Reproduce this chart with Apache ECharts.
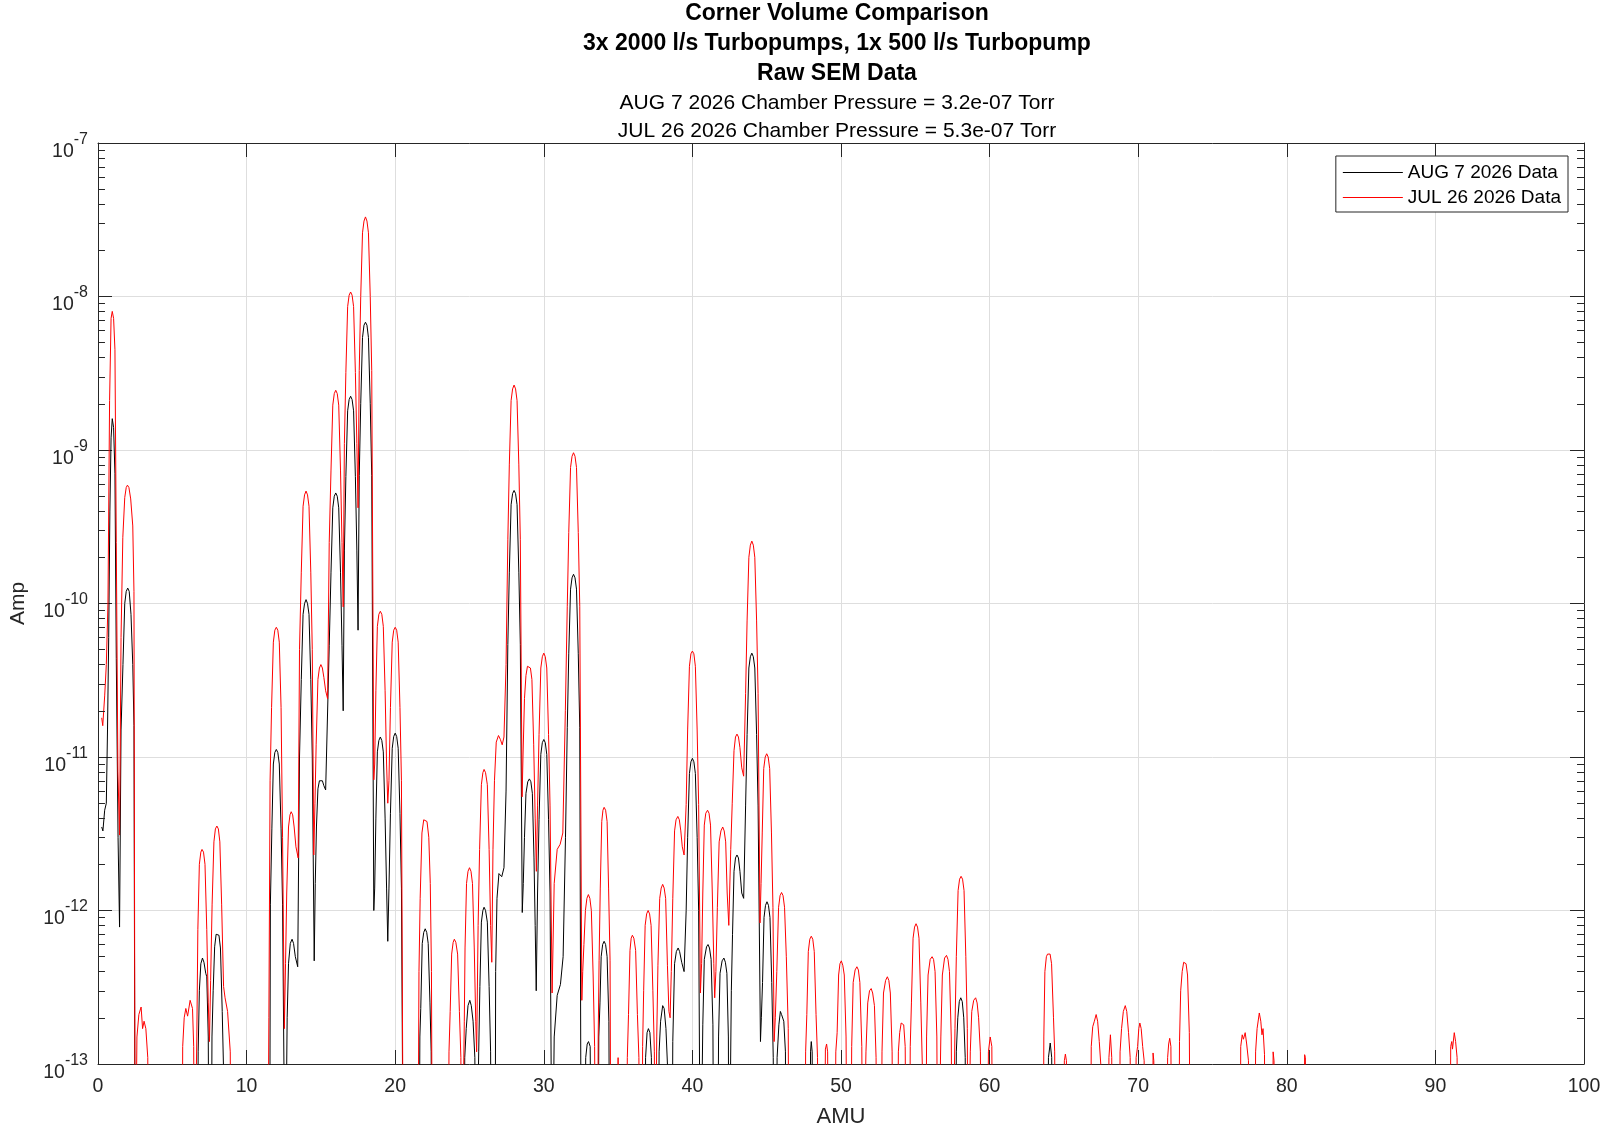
<!DOCTYPE html>
<html>
<head>
<meta charset="utf-8">
<script src="https://cdn.jsdelivr.net/npm/echarts@6/dist/echarts.min.js"></script>
<style>
html,body{margin:0;padding:0;background:#fff;}
#chart{width:1604px;height:1133px;}
</style>
</head>
<body>
<div id="chart"></div>
<script>
// ---------- data ----------
const titleLines = ['Corner Volume Comparison', '3x 2000 l/s Turbopumps, 1x 500 l/s Turbopump', 'Raw SEM Data'];
const subtitleLines = ['AUG 7 2026 Chamber Pressure = 3.2e-07 Torr', 'JUL 26 2026 Chamber Pressure = 5.3e-07 Torr'];
const seriesNames = ['AUG 7 2026 Data', 'JUL 26 2026 Data'];
const xTicks = [0, 10, 20, 30, 40, 50, 60, 70, 80, 90, 100];
const yDecades = [-13, -12, -11, -10, -9, -8, -7];
const minorMultipliers = [2, 3, 4, 5, 6, 7, 8, 9];

// AMU, Amp  (AUG 7 2026, black)
const aug7Data = [
[0.25,3.5e-12],[0.33,3.3e-12],[0.45,4.5e-12],[0.56,5e-12],[0.64,1.5e-11],[0.72,6e-11],[0.8,4e-10],[0.88,1.2e-9],[0.96,1.6e-9],[1.05,1.4e-9],[1.14,7e-10],[1.23,4.4e-11],[1.35,3e-12],[1.45,7.8e-13],
[1.55,1.5e-11],[1.68,4e-11],[1.8,1e-10],[1.9,1.2e-10],[2.0,1.26e-10],[2.1,1.2e-10],[2.22,8.5e-11],[2.34,4e-11],[2.42,1.6e-11],[2.5,1e-14],
[6.7,1e-14],[6.74,1.2e-13],[6.82,3e-13],[6.92,4.5e-13],[7.03,4.9e-13],[7.13,4.6e-13],[7.25,3.9e-13],[7.32,3.7e-13],[7.42,1.5e-13],[7.48,1e-14],
[7.62,1e-14],[7.67,1.5e-13],[7.75,3e-13],[7.85,5.8e-13],[7.95,7e-13],[8.04,7.2e-13],[8.14,6.9e-13],[8.24,5.7e-13],[8.36,2.2e-13],[8.44,1e-13],[8.48,1e-14],
[11.55,1e-14],[11.6,1.1e-12],[11.7,3.4e-12],[11.8,9e-12],[11.9,1.07e-11],[12.0,1.12e-11],[12.1,1.07e-11],[12.2,9e-12],[12.32,3.4e-12],[12.42,1.1e-12],[12.6,1e-14],
[12.68,1e-14],[12.73,2e-13],[12.82,4.5e-13],[12.94,6.1e-13],[13.06,6.5e-13],[13.16,6.1e-13],[13.28,5e-13],[13.44,4.3e-13],
[13.56,1e-11],[13.68,3.2e-11],[13.8,8.5e-11],[13.9,1.0e-10],[14.0,1.06e-10],[14.1,1.0e-10],[14.2,8.5e-11],[14.32,3.2e-11],[14.42,1e-11],[14.55,4.7e-13],
[14.62,1.5e-12],[14.7,3.5e-12],[14.8,6.2e-12],[14.9,7e-12],[15.0,7.2e-12],[15.1,7e-12],[15.2,6.5e-12],[15.32,6.1e-12],[15.45,6.0e-12],
[15.56,5.3e-11],[15.68,1.6e-10],[15.8,4.2e-10],[15.9,5e-10],[16.0,5.25e-10],[16.1,5e-10],[16.2,4.2e-10],[16.32,1.6e-10],[16.42,5.3e-11],[16.5,2e-11],
[16.58,2.2e-10],[16.68,6.7e-10],[16.8,1.8e-9],[16.9,2.13e-9],[17.0,2.24e-9],[17.1,2.13e-9],[17.2,1.8e-9],[17.32,6.7e-10],[17.42,2.2e-10],[17.5,6.7e-11],
[17.58,6.8e-10],[17.68,2e-9],[17.8,5.4e-9],[17.9,6.5e-9],[18.0,6.8e-9],[18.1,6.5e-9],[18.2,5.4e-9],[18.32,2e-9],[18.42,6.8e-10],[18.56,1e-12],
[18.62,1.4e-12],[18.7,4e-12],[18.8,1.08e-11],[18.9,1.28e-11],[19.0,1.35e-11],[19.1,1.28e-11],[19.2,1.08e-11],[19.32,4e-12],[19.42,1.4e-12],[19.5,6.3e-13],
[19.58,1.4e-12],[19.68,4.3e-12],[19.8,1.14e-11],[19.9,1.36e-11],[20.0,1.43e-11],[20.1,1.36e-11],[20.2,1.14e-11],[20.32,4.3e-12],[20.42,1.4e-12],[20.55,1e-14],
[21.6,1e-14],[21.66,1.5e-13],[21.72,2.3e-13],[21.82,6.1e-13],[21.92,7.2e-13],[22.02,7.6e-13],[22.12,7.2e-13],[22.22,6.1e-13],[22.34,2.5e-13],[22.42,1.2e-13],[22.47,1e-14],
[24.62,1e-14],[24.68,1.1e-13],[24.78,1.7e-13],[24.9,2.4e-13],[25.02,2.6e-13],[25.12,2.4e-13],[25.24,1.9e-13],[25.36,1.1e-13],[25.45,1e-14],
[25.58,1e-14],[25.62,1.2e-13],[25.7,3.2e-13],[25.8,8.4e-13],[25.9,1.0e-12],[25.98,1.05e-12],[26.08,1.0e-12],[26.2,8.4e-13],[26.32,3.2e-13],[26.42,1.2e-13],[26.48,1e-14],
[26.72,1e-14],[26.76,4e-13],[26.85,1.2e-12],[26.98,1.74e-12],[27.1,1.7e-12],[27.17,1.66e-12],[27.32,1.9e-12],[27.46,6e-12],
[27.58,5.4e-11],[27.68,1.6e-10],[27.8,4.4e-10],[27.9,5.2e-10],[28.0,5.45e-10],[28.1,5.2e-10],[28.2,4.4e-10],[28.32,1.6e-10],[28.42,5.4e-11],[28.55,9.7e-13],
[28.62,1.5e-12],[28.7,3e-12],[28.8,5.8e-12],[28.92,6.9e-12],[29.03,7.2e-12],[29.13,6.9e-12],[29.23,5.8e-12],[29.34,2.2e-12],[29.42,8e-13],[29.49,3e-13],
[29.58,1.3e-12],[29.68,3.9e-12],[29.8,1.04e-11],[29.9,1.24e-11],[30.0,1.3e-11],[30.1,1.24e-11],[30.2,1.04e-11],[30.32,3.9e-12],[30.42,1.3e-12],[30.56,1e-14],
[30.66,1e-14],[30.7,1.5e-13],[30.9,2.8e-13],[31.12,3.3e-13],[31.3,5e-13],[31.46,3e-12],
[31.58,1.55e-11],[31.68,4.7e-11],[31.8,1.24e-10],[31.9,1.47e-10],[32.0,1.55e-10],[32.1,1.47e-10],[32.2,1.24e-10],[32.32,4.7e-11],[32.42,1.55e-11],[32.52,1e-14],
[32.75,1e-14],[32.82,1.1e-13],[32.92,1.35e-13],[33.01,1.4e-13],[33.12,1.3e-13],[33.22,1e-14],
[33.65,1e-14],[33.7,1.5e-13],[33.78,2.5e-13],[33.86,5e-13],[33.96,6e-13],[34.06,6.3e-13],[34.16,6e-13],[34.26,5e-13],[34.38,1.9e-13],[34.44,1e-14],
[36.78,1e-14],[36.85,1.1e-13],[36.95,1.6e-13],[37.04,1.7e-13],[37.14,1.6e-13],[37.24,1.1e-13],[37.3,1e-14],
[37.7,1e-14],[37.76,1.2e-13],[37.86,1.9e-13],[38.0,2.4e-13],[38.1,2.3e-13],[38.22,1.7e-13],[38.32,1e-13],[38.36,1e-14],
[38.62,1e-14],[38.68,1.4e-13],[38.8,4.5e-13],[38.92,5.4e-13],[39.04,5.7e-13],[39.14,5.4e-13],[39.28,4.6e-13],[39.44,4e-13],
[39.58,1e-12],[39.68,3e-12],[39.8,7.8e-12],[39.9,9.3e-12],[40.0,9.8e-12],[40.1,9.3e-12],[40.2,7.8e-12],[40.32,3e-12],[40.42,1e-12],[40.54,1e-14],
[40.66,1e-14],[40.7,1.8e-13],[40.8,4.8e-13],[40.95,5.8e-13],[41.05,6e-13],[41.15,5.7e-13],[41.26,4.8e-13],[41.38,1.8e-13],[41.44,1e-14],
[41.7,1e-14],[41.76,1.5e-13],[41.86,3.9e-13],[42.0,4.7e-13],[42.12,4.9e-13],[42.22,4.6e-13],[42.32,3.9e-13],[42.42,1.5e-13],[42.47,1e-14],
[42.56,1e-14],[42.62,3e-13],[42.7,7e-13],[42.8,1.8e-12],[42.9,2.2e-12],[43.0,2.3e-12],[43.1,2.2e-12],[43.2,1.8e-12],[43.32,1.3e-12],[43.45,1.2e-12],
[43.58,4.8e-12],[43.68,1.4e-11],[43.8,3.8e-11],[43.9,4.5e-11],[44.0,4.75e-11],[44.1,4.5e-11],[44.2,3.8e-11],[44.32,1.4e-11],[44.42,4.8e-12],[44.58,1.4e-13],
[44.64,2e-13],[44.72,3.4e-13],[44.82,9e-13],[44.92,1.08e-12],[45.02,1.14e-12],[45.12,1.08e-12],[45.22,9e-13],[45.34,3.4e-13],[45.44,1.1e-13],[45.5,1e-14],
[45.64,1e-14],[45.7,1.1e-13],[45.82,1.8e-13],[45.92,2.2e-13],[46.0,2.1e-13],[46.05,2.15e-13],[46.15,1.9e-13],[46.26,1.2e-13],[46.3,1e-14],
[47.9,1e-14],[47.95,1.2e-13],[48.0,1.4e-13],[48.06,1.2e-13],[48.1,1e-14],
[57.7,1e-14],[57.76,1.2e-13],[57.86,2e-13],[57.96,2.55e-13],[58.06,2.7e-13],[58.16,2.55e-13],[58.26,2e-13],[58.36,1.1e-13],[58.4,1e-14],
[63.9,1e-14],[63.96,1.1e-13],[64.08,1.37e-13],[64.18,1.1e-13],[64.24,1e-14],
[100,1e-14]
];

// AMU, Amp  (JUL 26 2026, red)
const jul26Data = [
[0.25,1.8e-11],[0.32,1.6e-11],[0.45,2.5e-11],[0.56,4e-11],[0.67,1e-10],[0.78,2.1e-9],[0.88,7.2e-9],[0.96,8.0e-9],[1.05,7.2e-9],[1.14,4.5e-9],[1.23,2.5e-10],[1.34,8e-12],[1.45,3.1e-12],
[1.55,6e-11],[1.67,2.7e-10],[1.8,4.9e-10],[1.9,5.7e-10],[1.98,5.9e-10],[2.08,5.7e-10],[2.2,4.8e-10],[2.34,3.2e-10],[2.42,1.2e-10],[2.5,1e-14],
[2.56,1e-14],[2.62,1.5e-13],[2.75,2.1e-13],[2.9,2.35e-13],[3.0,1.7e-13],[3.1,1.9e-13],[3.22,1.7e-13],[3.35,1.1e-13],[3.4,1e-14],
[5.65,1e-14],[5.7,1.3e-13],[5.8,2.0e-13],[5.91,2.3e-13],[6.03,2.05e-13],[6.2,2.6e-13],[6.36,2.3e-13],[6.44,1.3e-13],[6.48,1e-14],
[6.6,1e-14],[6.65,1.5e-13],[6.72,7.5e-13],[6.82,2.0e-12],[6.92,2.4e-12],[7.0,2.5e-12],[7.1,2.4e-12],[7.2,2.0e-12],[7.32,7.5e-13],[7.42,2.5e-13],[7.5,1.4e-13],
[7.58,3.5e-13],[7.68,1.1e-12],[7.8,2.8e-12],[7.9,3.4e-12],[8.0,3.55e-12],[8.1,3.4e-12],[8.2,2.8e-12],[8.32,1.1e-12],[8.45,3.2e-13],[8.55,2.7e-13],[8.72,2.2e-13],[8.9,1.2e-13],[8.95,1e-14],
[11.42,1e-14],[11.5,2e-13],[11.58,7e-12],[11.68,2.1e-11],[11.8,5.6e-11],[11.9,6.7e-11],[12.0,7.0e-11],[12.1,6.7e-11],[12.2,5.6e-11],[12.32,2.1e-11],[12.42,3e-12],[12.54,1.7e-13],
[12.62,4.5e-13],[12.7,1.3e-12],[12.82,3.5e-12],[12.92,4.2e-12],[13.0,4.4e-12],[13.1,4.2e-12],[13.2,3.5e-12],[13.32,2.6e-12],[13.47,2.2e-12],
[13.56,5e-11],[13.68,1.6e-10],[13.8,4.3e-10],[13.9,5.1e-10],[14.0,5.4e-10],[14.1,5.1e-10],[14.2,4.3e-10],[14.32,1.6e-10],[14.42,5e-11],[14.52,2.3e-12],
[14.6,5e-12],[14.68,1.2e-11],[14.8,3.2e-11],[14.9,3.8e-11],[15.0,4.0e-11],[15.1,3.8e-11],[15.2,3.3e-11],[15.32,2.7e-11],[15.45,2.4e-11],
[15.56,2.5e-10],[15.68,7.4e-10],[15.8,1.96e-9],[15.9,2.33e-9],[16.0,2.45e-9],[16.1,2.33e-9],[16.2,1.96e-9],[16.32,7.4e-10],[16.42,2.5e-10],[16.5,9.5e-11],
[16.58,1.1e-9],[16.68,3.2e-9],[16.8,8.6e-9],[16.9,1.02e-8],[17.0,1.07e-8],[17.1,1.02e-8],[17.2,8.6e-9],[17.32,3.2e-9],[17.42,1.1e-9],[17.5,4.2e-10],
[17.58,3.3e-9],[17.68,1.0e-8],[17.8,2.6e-8],[17.9,3.1e-8],[18.0,3.3e-8],[18.1,3.1e-8],[18.2,2.6e-8],[18.32,1.0e-8],[18.42,3.3e-9],[18.56,7.1e-12],
[18.62,9e-12],[18.7,2.7e-11],[18.8,7.1e-11],[18.9,8.5e-11],[19.0,8.9e-11],[19.1,8.5e-11],[19.2,7.1e-11],[19.32,2.7e-11],[19.42,9e-12],[19.5,5e-12],
[19.58,7e-12],[19.68,2.1e-11],[19.8,5.6e-11],[19.9,6.7e-11],[20.0,7.0e-11],[20.1,6.7e-11],[20.2,5.6e-11],[20.32,2.1e-11],[20.42,7e-12],[20.55,1e-14],
[21.52,1e-14],[21.6,4e-13],[21.68,1.2e-12],[21.8,3.2e-12],[21.92,3.9e-12],[22.03,4.0e-12],[22.14,3.8e-12],[22.26,3.0e-12],[22.36,1.5e-12],[22.44,4e-13],[22.5,1e-14],
[23.56,1e-14],[23.62,1.2e-13],[23.7,2.2e-13],[23.8,5.2e-13],[23.9,6.2e-13],[23.98,6.5e-13],[24.08,6.2e-13],[24.2,5.2e-13],[24.32,2.2e-13],[24.42,1.1e-13],[24.48,1e-14],
[24.6,1e-14],[24.65,1.9e-13],[24.7,5.7e-13],[24.8,1.5e-12],[24.9,1.8e-12],[25.0,1.9e-12],[25.1,1.8e-12],[25.2,1.5e-12],[25.32,5.7e-13],[25.42,1.9e-13],[25.48,1.2e-13],
[25.58,8e-13],[25.68,2.5e-12],[25.8,6.6e-12],[25.9,7.9e-12],[25.98,8.3e-12],[26.08,7.9e-12],[26.2,6.6e-12],[26.32,2.5e-12],[26.42,8e-13],[26.5,4.6e-13],
[26.58,2.5e-12],[26.68,7e-12],[26.8,1.25e-11],[26.95,1.38e-11],[27.08,1.3e-11],[27.2,1.2e-11],[27.32,1.35e-11],[27.46,4e-11],
[27.58,2.6e-10],[27.68,8e-10],[27.8,2.1e-9],[27.9,2.5e-9],[28.0,2.65e-9],[28.1,2.5e-9],[28.2,2.1e-9],[28.32,8e-10],[28.42,2.6e-10],[28.54,5.5e-12],
[28.6,1e-11],[28.7,2.4e-11],[28.8,3.4e-11],[28.9,3.9e-11],[29.0,4.0e-11],[29.1,3.8e-11],[29.2,3.2e-11],[29.32,1.2e-11],[29.42,4e-12],[29.5,1.8e-12],
[29.58,4.8e-12],[29.68,1.4e-11],[29.8,3.8e-11],[29.9,4.5e-11],[30.0,4.75e-11],[30.1,4.5e-11],[30.2,3.8e-11],[30.32,1.4e-11],[30.42,4.8e-12],[30.56,2.9e-13],
[30.7,1.5e-12],[30.9,2.5e-12],[31.1,2.7e-12],[31.28,3.2e-12],[31.45,2e-11],
[31.58,9.6e-11],[31.68,2.9e-10],[31.8,7.7e-10],[31.9,9.1e-10],[32.0,9.6e-10],[32.1,9.1e-10],[32.2,7.7e-10],[32.32,2.9e-10],[32.42,9.6e-11],[32.56,2.6e-13],
[32.62,4e-13],[32.7,6e-13],[32.8,1.0e-12],[32.9,1.2e-12],[33.0,1.27e-12],[33.1,1.2e-12],[33.2,1.0e-12],[33.32,3.8e-13],[33.42,1.3e-13],[33.48,1e-14],
[33.62,1e-14],[33.66,1.5e-13],[33.72,4.7e-13],[33.8,1.4e-12],[33.9,3.8e-12],[33.98,4.5e-12],[34.06,4.7e-12],[34.16,4.5e-12],[34.26,3.8e-12],[34.36,1.4e-12],[34.46,4.7e-13],[34.52,1e-14],
[34.95,1e-14],[35.0,1.1e-13],[35.06,1e-14],
[35.55,1e-14],[35.62,1.1e-13],[35.7,2.1e-13],[35.8,5.5e-13],[35.88,6.6e-13],[35.96,6.9e-13],[36.06,6.6e-13],[36.18,5.5e-13],[36.3,2.1e-13],[36.4,1.1e-13],[36.46,1e-14],
[36.6,1e-14],[36.65,1.3e-13],[36.72,3e-13],[36.82,8e-13],[36.92,9.5e-13],[37.02,1.0e-12],[37.12,9.5e-13],[37.22,8e-13],[37.34,3e-13],[37.44,1.2e-13],[37.5,1e-14],
[37.55,1e-14],[37.6,1.5e-13],[37.68,4.4e-13],[37.8,1.2e-12],[37.9,1.4e-12],[38.0,1.48e-12],[38.1,1.4e-12],[38.2,1.2e-12],[38.32,4.4e-13],[38.42,2.2e-13],[38.5,2.0e-13],
[38.58,4e-13],[38.68,1.2e-12],[38.8,3.3e-12],[38.9,3.9e-12],[39.02,4.1e-12],[39.12,3.9e-12],[39.22,3.3e-12],[39.32,2.6e-12],[39.44,2.3e-12],
[39.58,4.9e-12],[39.68,1.5e-11],[39.8,3.9e-11],[39.9,4.7e-11],[40.0,4.9e-11],[40.1,4.7e-11],[40.2,3.9e-11],[40.32,1.5e-11],[40.42,4.9e-12],[40.54,2.9e-13],
[40.62,4.5e-13],[40.7,1.3e-12],[40.8,3.6e-12],[40.9,4.3e-12],[41.02,4.5e-12],[41.12,4.3e-12],[41.22,3.6e-12],[41.34,1.3e-12],[41.44,4.5e-13],[41.5,2.7e-13],
[41.58,4e-13],[41.68,1.05e-12],[41.8,2.8e-12],[41.92,3.3e-12],[42.04,3.5e-12],[42.14,3.3e-12],[42.24,2.8e-12],[42.34,1.3e-12],[42.45,8e-13],
[42.58,2.5e-12],[42.68,5e-12],[42.8,1.1e-11],[42.9,1.35e-11],[43.0,1.41e-11],[43.1,1.35e-11],[43.2,1.15e-11],[43.32,8.5e-12],[43.45,7.5e-12],
[43.58,2.6e-11],[43.68,7.7e-11],[43.8,2.0e-10],[43.9,2.4e-10],[44.0,2.55e-10],[44.1,2.4e-10],[44.2,2.0e-10],[44.32,7.7e-11],[44.42,2.6e-11],[44.55,8.3e-13],
[44.62,1.5e-12],[44.7,3.2e-12],[44.8,8.4e-12],[44.9,1.0e-11],[45.0,1.05e-11],[45.1,1.0e-11],[45.2,8.4e-12],[45.32,3.2e-12],[45.42,1.05e-12],[45.5,1.4e-13],
[45.58,2e-13],[45.68,4e-13],[45.8,1.05e-12],[45.9,1.25e-12],[46.0,1.31e-12],[46.1,1.25e-12],[46.2,1.05e-12],[46.32,5e-13],[46.45,1.7e-13],[46.5,1e-14],
[47.56,1e-14],[47.62,1.2e-13],[47.7,2.1e-13],[47.8,5.4e-13],[47.9,6.5e-13],[48.0,6.8e-13],[48.1,6.5e-13],[48.2,5.4e-13],[48.32,2.1e-13],[48.42,1.1e-13],[48.48,1e-14],
[48.88,1e-14],[48.95,1.25e-13],[49.03,1.35e-13],[49.1,1.2e-13],[49.16,1e-14],
[49.58,1e-14],[49.65,1.2e-13],[49.74,1.6e-13],[49.84,3.8e-13],[49.93,4.5e-13],[50.02,4.7e-13],[50.12,4.4e-13],[50.22,3.8e-13],[50.34,1.5e-13],[50.42,1e-14],
[50.65,1e-14],[50.72,1.3e-13],[50.82,3.4e-13],[50.95,4.1e-13],[51.07,4.3e-13],[51.17,4.1e-13],[51.27,3.4e-13],[51.4,1.3e-13],[51.47,1e-14],
[51.6,1e-14],[51.68,1.2e-13],[51.8,2.5e-13],[51.92,3.0e-13],[52.03,3.1e-13],[52.13,2.9e-13],[52.25,2.4e-13],[52.36,1.1e-13],[52.42,1e-14],
[52.7,1e-14],[52.76,1.2e-13],[52.86,2.9e-13],[53.0,3.5e-13],[53.12,3.7e-13],[53.22,3.5e-13],[53.32,2.9e-13],[53.44,1.2e-13],[53.5,1e-14],
[53.8,1e-14],[53.86,1.2e-13],[53.95,1.6e-13],[54.05,1.85e-13],[54.13,1.9e-13],[54.22,1.8e-13],[54.32,1.3e-13],[54.4,1e-14],
[54.6,1e-14],[54.66,1.3e-13],[54.74,2.5e-13],[54.85,6.6e-13],[54.95,7.8e-13],[55.05,8.2e-13],[55.15,7.8e-13],[55.25,6.6e-13],[55.37,2.5e-13],[55.47,1e-13],[55.52,1e-14],
[55.7,1e-14],[55.76,1.5e-13],[55.86,3.8e-13],[56.0,4.8e-13],[56.13,5.0e-13],[56.23,4.8e-13],[56.33,4e-13],[56.45,1.5e-13],[56.52,1e-14],
[56.65,1e-14],[56.72,1.5e-13],[56.82,3.8e-13],[56.97,4.9e-13],[57.1,5.1e-13],[57.2,4.8e-13],[57.3,4e-13],[57.42,1.5e-13],[57.5,1e-14],
[57.62,1e-14],[57.67,1.7e-13],[57.76,5e-13],[57.88,1.35e-12],[57.98,1.6e-12],[58.08,1.67e-12],[58.18,1.6e-12],[58.28,1.35e-12],[58.4,5e-13],[58.5,1.7e-13],[58.55,1e-14],
[58.62,1e-14],[58.7,1.2e-13],[58.8,2.2e-13],[58.93,2.6e-13],[59.06,2.7e-13],[59.16,2.5e-13],[59.26,2.0e-13],[59.38,1.2e-13],[59.45,1e-14],
[59.85,1e-14],[59.92,1.2e-13],[60.04,1.5e-13],[60.15,1.3e-13],[60.22,1e-14],
[63.6,1e-14],[63.65,1.5e-13],[63.72,4e-13],[63.82,5e-13],[63.9,5.2e-13],[63.97,5.3e-13],[64.07,5.2e-13],[64.17,4.5e-13],[64.3,2e-13],[64.38,1.2e-13],[64.43,1e-14],
[64.98,1e-14],[65.03,1.05e-13],[65.1,1.16e-13],[65.17,1.05e-13],[65.22,1e-14],
[66.78,1e-14],[66.84,1.3e-13],[66.94,1.75e-13],[67.05,1.9e-13],[67.17,2.1e-13],[67.27,1.9e-13],[67.38,1.4e-13],[67.48,1e-13],[67.52,1e-14],
[67.98,1e-14],[68.03,1.1e-13],[68.13,1.55e-13],[68.22,1.1e-13],[68.26,1e-14],
[68.72,1e-14],[68.78,1.2e-13],[68.88,1.7e-13],[69.0,2.2e-13],[69.13,2.4e-13],[69.23,2.2e-13],[69.35,1.6e-13],[69.46,1.1e-13],[69.52,1e-14],
[69.8,1e-14],[69.86,1.1e-13],[69.96,1.3e-13],[70.04,1.7e-13],[70.11,1.85e-13],[70.2,1.7e-13],[70.3,1.3e-13],[70.4,1.05e-13],[70.44,1e-14],
[70.95,1e-14],[71.0,1.18e-13],[71.05,1.05e-13],[71.12,1.08e-13],[71.18,1e-14],
[71.92,1e-14],[71.98,1.1e-13],[72.05,1.35e-13],[72.12,1.47e-13],[72.2,1.3e-13],[72.28,1e-14],
[72.72,1e-14],[72.78,1.4e-13],[72.86,3e-13],[72.96,4.0e-13],[73.06,4.6e-13],[73.13,4.7e-13],[73.22,4.5e-13],[73.32,3.8e-13],[73.44,1.6e-13],[73.52,1e-14],
[76.85,1e-14],[76.9,1.3e-13],[77.0,1.55e-13],[77.08,1.45e-13],[77.2,1.6e-13],[77.3,1.35e-13],[77.42,1.05e-13],[77.46,1e-14],
[77.85,1e-14],[77.9,1.2e-13],[78.0,1.7e-13],[78.15,2.15e-13],[78.25,1.9e-13],[78.33,1.55e-13],[78.4,1.7e-13],[78.5,1.15e-13],[78.55,1e-14],
[79.02,1e-14],[79.08,1.2e-13],[79.14,1.05e-13],[79.18,1e-14],
[81.15,1e-14],[81.2,1.15e-13],[81.25,1.1e-13],[81.3,1e-14],
[90.98,1e-14],[91.03,1.3e-13],[91.1,1.4e-13],[91.15,1.25e-13],[91.27,1.6e-13],[91.36,1.4e-13],[91.46,1.1e-13],[91.5,1e-14],
[100,1e-14]
];

// ---------- chart ----------
const FONT = '"Liberation Sans", Arial, Helvetica, sans-serif';
const AXIS_COLOR = '#262626';
const xMin = xTicks[0], xMax = xTicks[xTicks.length - 1];
const yMin = Math.pow(10, yDecades[0]), yMax = Math.pow(10, yDecades[yDecades.length - 1]);

const minorValues = [];
yDecades.slice(0, -1).forEach(e => minorMultipliers.forEach(m => minorValues.push(m * Math.pow(10, e))));

const minorGridLines = minorValues.map(v => ({ yAxis: v }));
const minorTickSegs = [];
minorValues.forEach(v => {
  minorTickSegs.push([{ coord: [xMin, v] }, { coord: [xMin + 0.47, v] }]);
  minorTickSegs.push([{ coord: [xMax - 0.47, v] }, { coord: [xMax, v] }]);
});

const LEGEND_LINE_ICON = 'path://M0,0L60,0L60,1L0,1Z';

const chart = echarts.init(document.getElementById('chart'), null, { renderer: 'canvas' });

const option = {
  backgroundColor: '#ffffff',
  animation: false,
  textStyle: { fontFamily: FONT },
  title: {
    text: titleLines.join('\n'),
    subtext: subtitleLines.join('\n'),
    left: 837,
    top: -1,
    textAlign: 'center',
    padding: 0,
    itemGap: 1,
    textStyle: { fontFamily: FONT, fontSize: 23, fontWeight: 'bold', color: '#000', lineHeight: 29.7 },
    subtextStyle: { fontFamily: FONT, fontSize: 21, color: '#000', lineHeight: 28 }
  },
  legend: {
    data: seriesNames.map(n => ({ name: n, icon: LEGEND_LINE_ICON })),
    orient: 'vertical',
    right: 36,
    top: 156,
    padding: [7, 7, 5, 7],
    itemGap: 6,
    itemWidth: 60,
    itemHeight: 19,
    backgroundColor: '#ffffff',
    borderColor: AXIS_COLOR,
    borderWidth: 1,
    borderRadius: 0,
    textStyle: { fontFamily: FONT, fontSize: 19, color: '#000' }
  },
  grid: { left: 90, right: 20, top: 143, bottom: 64, containLabel: false },
  xAxis: [{
    type: 'value', min: xMin, max: xMax, interval: 10,
    name: 'AMU', nameLocation: 'middle', nameGap: 42,
    nameTextStyle: { fontFamily: FONT, fontSize: 22, color: AXIS_COLOR },
    axisLine: { show: true, onZero: false, lineStyle: { color: AXIS_COLOR, width: 1 } },
    axisTick: { show: true, inside: true, length: 14, lineStyle: { color: AXIS_COLOR } },
    axisLabel: { fontFamily: FONT, fontSize: 19.5, color: AXIS_COLOR, margin: 13 },
    splitLine: { show: true, lineStyle: { color: '#dedede', width: 1 } }
  }, {
    type: 'value', position: 'top', min: xMin, max: xMax, interval: 10,
    axisLine: { show: true, onZero: false, lineStyle: { color: AXIS_COLOR, width: 1 } },
    axisTick: { show: true, inside: true, length: 14, lineStyle: { color: AXIS_COLOR } },
    axisLabel: { show: false }, splitLine: { show: false }
  }],
  yAxis: [{
    type: 'log', logBase: 10, min: yMin, max: yMax,
    name: 'Amp', nameLocation: 'middle', nameGap: 69,
    nameTextStyle: { fontFamily: FONT, fontSize: 21, color: AXIS_COLOR },
    axisLine: { show: true, onZero: false, lineStyle: { color: AXIS_COLOR, width: 1 } },
    axisTick: { show: true, inside: true, length: 14, lineStyle: { color: AXIS_COLOR } },
    axisLabel: {
      margin: 10,
      padding: [7, 0, 0, 0],
      formatter: v => '{b|10}{s|' + Math.round(Math.log10(v)) + '}',
      rich: {
        b: { fontFamily: FONT, fontSize: 19.5, color: AXIS_COLOR, lineHeight: 30, verticalAlign: 'bottom' },
        s: { fontFamily: FONT, fontSize: 16, color: AXIS_COLOR, lineHeight: 16, verticalAlign: 'top' }
      }
    },
    splitLine: { show: true, lineStyle: { color: '#dedede', width: 1 } }
  }, {
    type: 'log', logBase: 10, min: yMin, max: yMax, position: 'right',
    axisLine: { show: true, onZero: false, lineStyle: { color: AXIS_COLOR, width: 1 } },
    axisTick: { show: true, inside: true, length: 14, lineStyle: { color: AXIS_COLOR } },
    axisLabel: { show: false }, splitLine: { show: false }
  }],
  series: [
    {
      name: 'minorGrid', type: 'line', data: [[xMin, 1e-14]], symbol: 'none', silent: true, z: 1,
      lineStyle: { opacity: 0 },
      markLine: {
        silent: true, symbol: ['none', 'none'], label: { show: false }, animation: false,
        lineStyle: { color: '#c4c4c4', type: [1, 3.5], width: 1 },
        emphasis: { disabled: true },
        data: minorGridLines
      }
    },
    {
      name: 'minorTicks', type: 'line', data: [[xMin, 1e-14]], symbol: 'none', silent: true, z: 4,
      lineStyle: { opacity: 0 },
      markLine: {
        silent: true, symbol: ['none', 'none'], label: { show: false }, animation: false,
        lineStyle: { color: AXIS_COLOR, type: 'solid', width: 1 },
        emphasis: { disabled: true },
        data: minorTickSegs
      }
    },
    {
      name: seriesNames[0], type: 'line', data: aug7Data, symbol: 'none', showSymbol: false,
      clip: true, sampling: null, z: 3,
      lineStyle: { color: '#000000', width: 1 }, itemStyle: { color: '#000000' }
    },
    {
      name: seriesNames[1], type: 'line', data: jul26Data, symbol: 'none', showSymbol: false,
      clip: true, sampling: null, z: 3,
      lineStyle: { color: '#ff0000', width: 1 }, itemStyle: { color: '#ff0000' }
    }
  ]
};
chart.setOption(option);
</script>
</body>
</html>
